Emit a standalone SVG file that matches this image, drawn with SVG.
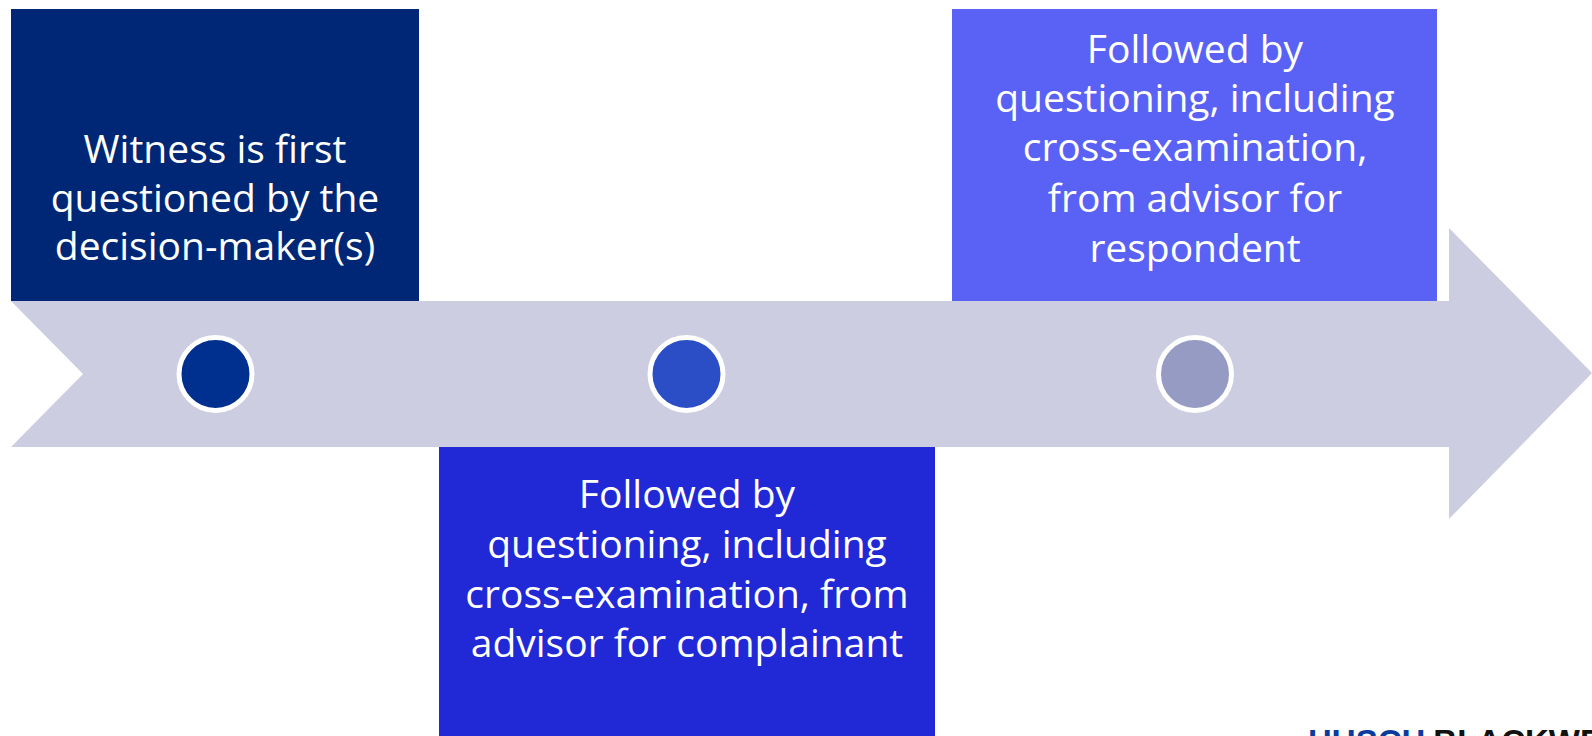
<svg xmlns="http://www.w3.org/2000/svg" width="1592" height="736" viewBox="0 0 1592 736">
<style>
.lbl{font-family:"Open Sans","Noto Sans",sans-serif;font-size:39px;fill:#ffffff;text-anchor:middle}
.dot{stroke:#ffffff;stroke-width:5}
.logo{font-family:"Liberation Sans",Arial,sans-serif;font-weight:bold;font-size:33px}
</style>
<rect width="1592" height="736" fill="#ffffff"/>
<g id="connectors">
<polygon id="timeline-arrow" points="11,301 1449,301 1449,228 1592,373 1449,519 1449,447 11,447 83,374" fill="#CCCDE0"/>
</g>
<g id="step1">
<rect x="11" y="9" width="408" height="292" fill="#002776"/>
<text class="lbl" x="215" y="163">Witness is first</text>
<text class="lbl" x="215" y="212">questioned by the</text>
<text class="lbl" x="215" y="260">decision-maker(s)</text>
</g>
<g id="step2">
<rect x="439" y="447" width="496" height="289" fill="#2128D6"/>
<text class="lbl" x="687" y="508">Followed by</text>
<text class="lbl" x="687" y="558">questioning, including</text>
<text class="lbl" x="687" y="608">cross-examination, from</text>
<text class="lbl" x="687" y="657">advisor for complainant</text>
</g>
<g id="step3">
<rect x="952" y="9" width="485" height="292" fill="#5A62F5"/>
<text class="lbl" x="1195" y="63">Followed by</text>
<text class="lbl" x="1195" y="112">questioning, including</text>
<text class="lbl" x="1195" y="161">cross-examination,</text>
<text class="lbl" x="1195" y="212">from advisor for</text>
<text class="lbl" x="1195" y="262">respondent</text>
</g>
<g id="marker1"><circle class="dot" cx="215.5" cy="374" r="36.5" fill="#00308F"/></g>
<g id="marker2"><circle class="dot" cx="686.5" cy="374" r="36.5" fill="#2B4EC6"/></g>
<g id="marker3"><circle class="dot" cx="1195" cy="374" r="36.5" fill="#959BC2"/></g>
<g id="logo">
<text class="logo" x="1308" y="753"><tspan fill="#0B3B9E">HUSCH</tspan><tspan fill="#111111" dx="8">BLACKWELL</tspan></text>
</g>
</svg>
